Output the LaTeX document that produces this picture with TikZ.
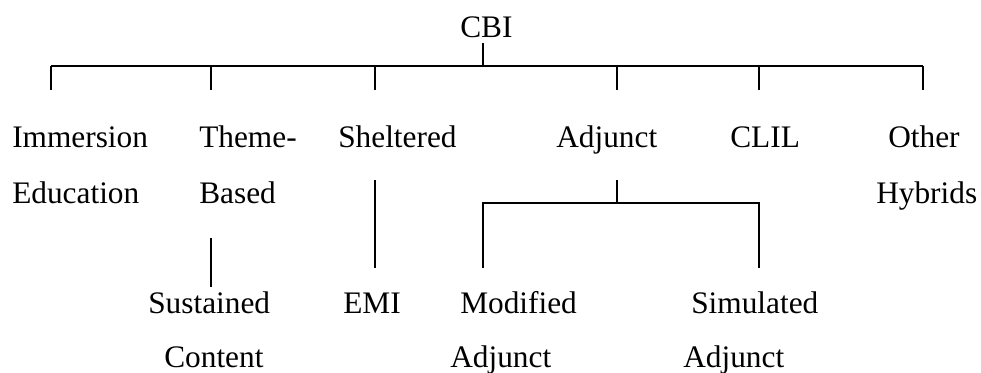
\documentclass[tikz,border=0pt]{standalone}
\usepackage{fontspec}
\setmainfont{Liberation Serif}
\begin{document}
\begin{tikzpicture}[x=0.75pt, y=-0.75pt,
    every node/.style={font=\fontsize{23.5}{28}\selectfont, inner sep=0pt, anchor=base west},
    ast/.style={line width=1.1pt}]
    \useasboundingbox (0,0) rectangle (981,372);
    % Wurzel
    \node (cbi) at (460,37) {CBI};
    \coordinate (stemtop) at (483,43);
    \coordinate (stembot) at (483,66);
    \draw[ast] (stemtop) -- (stembot);

    % Hauptbalken mit sechs Abzweigen
    \coordinate (barL) at (51,66);
    \coordinate (barR) at (923,66);
    \draw[ast] (barL) -- (barR);
    \foreach \x [count=\i] in {51,211,375,617,759,923} {
      \coordinate (top\i) at (\x,66);
      \coordinate (bot\i) at (\x,90);
      \draw[ast] (top\i) -- (bot\i);
    }

    % erste Ebene
    \node (imm)  at (12,147)  {Immersion};
    \node (imm2) at (12,203)  {Education};
    \node (thm)  at (199,147) {Theme-};
    \node (thm2) at (199,203) {Based};
    \node (shl)  at (338,147) {Sheltered};
    \node (adj)  at (556,147) {Adjunct};
    \node (clil) at (730,147) {CLIL};
    \node (oth)  at (888,147) {Other};
    \node (oth2) at (876,203) {Hybrids};

    % Theme-Based -> Sustained Content
    \coordinate (thmA) at (211,238);
    \coordinate (thmB) at (211,287);
    \draw[ast] (thmA) -- (thmB);
    \node (sus)  at (148,313) {Sustained};
    \node (sus2) at (164,367) {Content};

    % Sheltered -> EMI
    \coordinate (shlA) at (375,180);
    \coordinate (shlB) at (375,268);
    \draw[ast] (shlA) -- (shlB);
    \node (emi) at (343,313) {EMI};

    % Adjunct -> Modified / Simulated
    \coordinate (adjA) at (617,180);
    \coordinate (adjB) at (617,203);
    \coordinate (modA) at (483,203);
    \coordinate (modB) at (483,268);
    \coordinate (simA) at (759,203);
    \coordinate (simB) at (759,268);
    \draw[ast] (adjA) -- (adjB);
    \draw[ast] (modB) -- (modA) -- (simA) -- (simB);
    \node (mod)  at (460,313) {Modified};
    \node (mod2) at (450,367) {Adjunct};
    \node (sim)  at (691,313) {Simulated};
    \node (sim2) at (683,367) {Adjunct};
\end{tikzpicture}
\end{document}
